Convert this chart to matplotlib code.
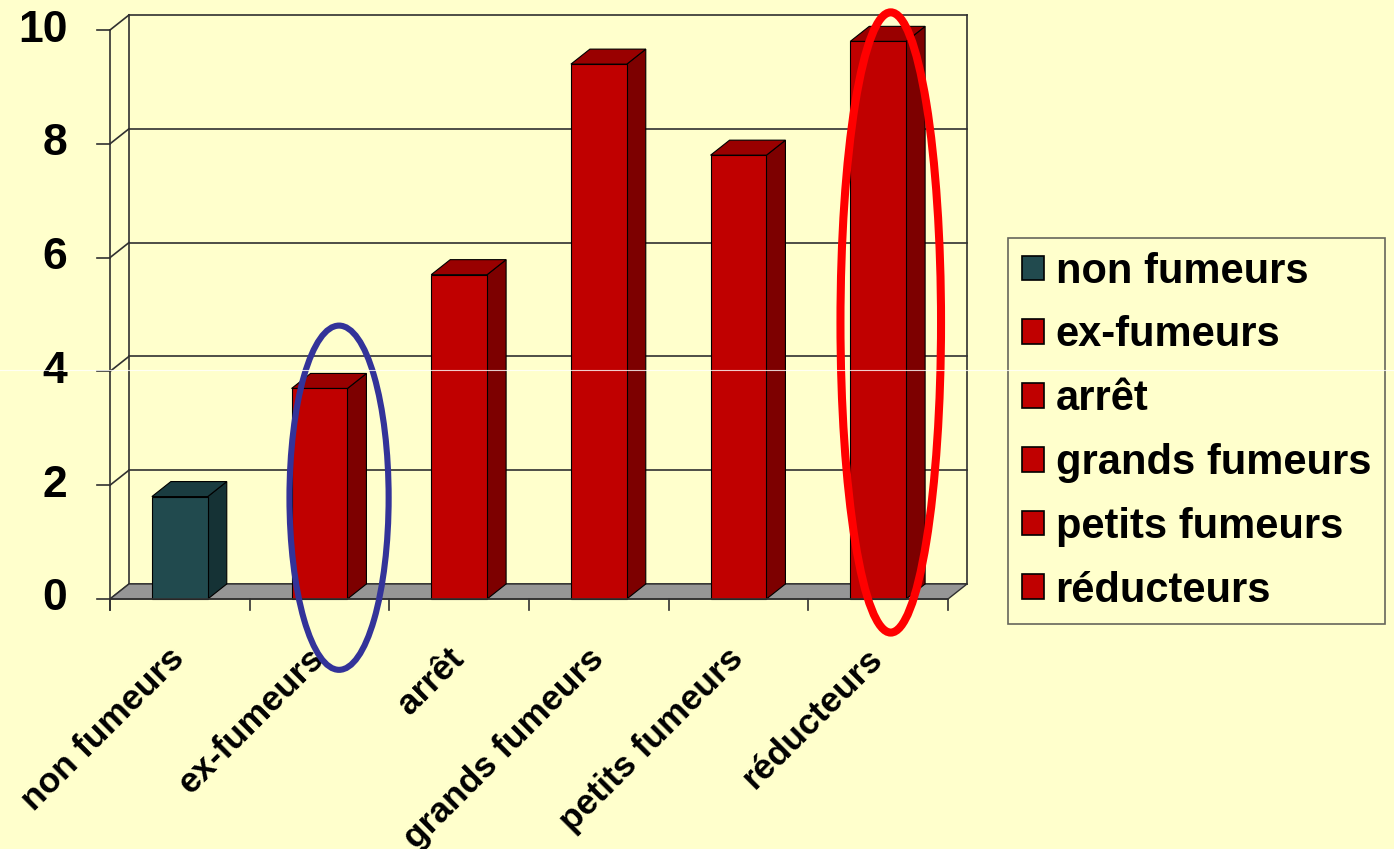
import numpy as np
import matplotlib
matplotlib.use('Agg')
import matplotlib.pyplot as plt
from matplotlib.patches import Patch, Polygon, Rectangle, Ellipse
from matplotlib.lines import Line2D

plt.rcParams['font.family'] = ['Liberation Sans', 'DejaVu Sans']
plt.rcParams['font.weight'] = 'bold'

# ── Data ─────────────────────────────────────────────────────────────────────
CATEGORIES = ["non fumeurs", "ex-fumeurs", "arrêt", "grands fumeurs",
              "petits fumeurs", "réducteurs"]
VALUES     = [1.8, 3.7, 5.7, 9.4, 7.8, 9.8]
Y_TICKS    = [0, 2, 4, 6, 8, 10]

# (front, side, top) shading per bar
TEAL = ("#214A4E", "#153235", "#1A3C40")
RED  = ("#C00000", "#7D0000", "#990000")
BAR_COLORS = [TEAL, RED, RED, RED, RED, RED]

BG    = "#FFFFCC"
FLOOR = "#969696"
LINE  = "#303030"

# highlight ellipses: (x centre, y centre, width, height, colour, lw)
HIGHLIGHTS = [
    (1.64, 1.78, 0.71, 6.05, "#333399", 4.4),
    (5.59, 4.86, 0.72, 10.9, "#FF0000", 5.8),
]

# ── 3D-ish geometry in data units ────────────────────────────────────────────
DX, DY = 0.136, 0.264       # depth offset of back wall
BAR_L, BAR_W = 0.3, 0.4     # bar front face within a category slot
N = len(CATEGORIES)
YMAX = Y_TICKS[-1]

fig = plt.figure(figsize=(13.94, 8.49), dpi=100)
fig.patch.set_facecolor(BG)
ax = fig.add_axes([0, 0, 1, 1])
ax.set_facecolor(BG)
ax.set_xlim(-110 / 139.67, (1394 - 110) / 139.67)
ax.set_ylim(-250 / 56.9, 599 / 56.9)
ax.axis('off')

# back wall gridlines + side wall diagonals
for g in Y_TICKS:
    ax.plot([DX, N + DX], [g + DY, g + DY], color=LINE, lw=1.2, zorder=1)
    ax.plot([0, DX], [g, g + DY], color=LINE, lw=1.2, zorder=1)
    ax.plot([-0.095, 0], [g, g], color=LINE, lw=1.2, zorder=1)
ax.plot([DX, DX], [DY, YMAX + DY], color=LINE, lw=1.2, zorder=1)
ax.plot([N + DX, N + DX], [DY, YMAX + DY], color=LINE, lw=1.2, zorder=1)

# floor
ax.add_patch(Polygon([(0, 0), (N, 0), (N + DX, DY), (DX, DY)], closed=True,
                     facecolor=FLOOR, edgecolor=LINE, lw=1.0, zorder=2))

# bars
for i, (v, cols) in enumerate(zip(VALUES, BAR_COLORS)):
    x0, x1 = i + BAR_L, i + BAR_L + BAR_W
    ax.add_patch(Polygon([(x1, 0), (x1 + DX, DY), (x1 + DX, v + DY), (x1, v)],
                         closed=True, facecolor=cols[1], edgecolor='black',
                         lw=0.8, zorder=3))
    ax.add_patch(Polygon([(x0, v), (x1, v), (x1 + DX, v + DY), (x0 + DX, v + DY)],
                         closed=True, facecolor=cols[2], edgecolor='black',
                         lw=0.8, zorder=3))
    ax.add_patch(Rectangle((x0, 0), BAR_W, v, facecolor=cols[0],
                           edgecolor='black', lw=0.8, zorder=4))

# front axes
ax.plot([0, 0], [-0.19, YMAX], color=LINE, lw=1.2, zorder=5)
ax.plot([0, N], [0, 0], color=LINE, lw=1.2, zorder=5)
for i in range(N + 1):
    ax.plot([i, i], [0, -0.19], color=LINE, lw=1.2, zorder=5)

for g in Y_TICKS:
    ax.text(-0.305, g, str(g), ha='right', va='center', fontsize=32,
            fontweight='bold', zorder=6)

for i, lab in enumerate(CATEGORIES):
    ax.text(i + 0.58, -0.75, lab, rotation=45, ha='right', va='top',
            fontsize=25.5, fontweight='bold', zorder=6)

for xc, yc, w, h, col, lw in HIGHLIGHTS:
    ax.add_patch(Ellipse((xc, yc), w, h, fill=False, edgecolor=col, lw=lw,
                         zorder=8))

handles = [Patch(facecolor=c[0], edgecolor='black', lw=1.2, label=lab)
           for c, lab in zip(BAR_COLORS, CATEGORIES)]
leg = fig.legend(handles=handles, loc='upper left',
                 bbox_to_anchor=(1008 / 1394, 1 - 238 / 849),
                 prop={'size': 30, 'weight': 'bold'}, frameon=True,
                 fancybox=False, handlelength=0.53, handleheight=0.53,
                 handletextpad=0.28, labelspacing=0.57, borderpad=0.33,
                 borderaxespad=0)
leg.get_frame().set_facecolor(BG)
leg.get_frame().set_edgecolor('#404040')
leg.get_frame().set_linewidth(1.2)

# faint slide artefact line
fig.add_artist(Line2D([0, 1], [1 - 370 / 849] * 2, color='white', lw=0.8,
                      alpha=0.8, transform=fig.transFigure, zorder=20))

plt.savefig("out.png", dpi=100, facecolor=BG)
